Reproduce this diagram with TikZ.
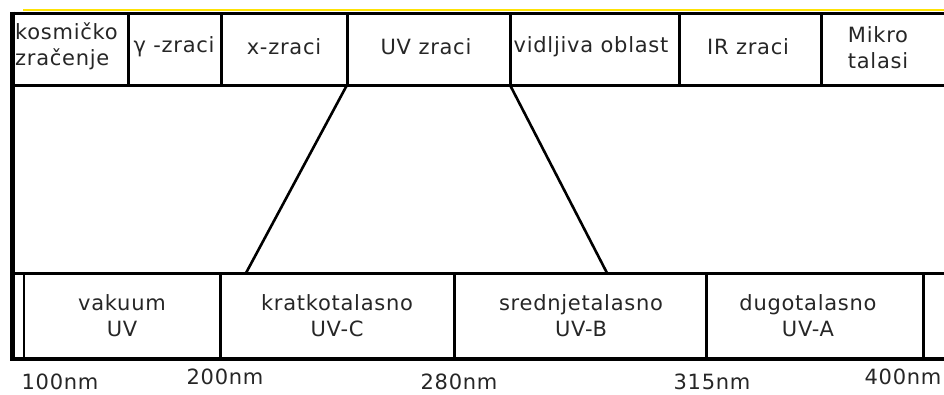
\documentclass[tikz,border=0pt]{standalone}
\usepackage{fontspec}
\setmainfont[LetterSpace=3.5]{DejaVu Sans}
\begin{document}
\begin{tikzpicture}[x=1pt, y=-1pt, line join=miter,
    band/.style={font=\fontsize{21}{26}\selectfont, align=center, inner sep=0pt, text=black!85},
    rule/.style={line width=3pt},
    slant/.style={line width=2.6pt}]
    \useasboundingbox (0,0) rectangle (944,394);

    % Coordinates for the two strips
    \coordinate (T0) at (10,13);
    \coordinate (T1) at (944,13);
    \coordinate (M0) at (12,85);
    \coordinate (M1) at (944,85);
    \coordinate (B0) at (12,273);
    \coordinate (B1) at (944,273);
    \coordinate (S0) at (10,359);
    \coordinate (S1) at (944,359);

    % Ends of the UV band in the upper strip and below
    \coordinate (uvL) at (347,85);
    \coordinate (uvR) at (510,85);
    \coordinate (uvcL) at (246,273);
    \coordinate (uvbR) at (607,273);

    % Thin yellow edge on top
    \draw[line width=1.2pt, yellow!85!orange] (23,10) -- (944,10);

    % Frame
    \draw[rule] (T0) -- (T1);
    \draw[rule] (M0) -- (M1);
    \draw[rule] (B0) -- (B1);
    \draw[line width=4pt] (S0) -- (S1);
    \draw[line width=5pt] (12.5,11.5) -- (12.5,361);

    % Upper strip dividers
    \draw[rule] (128,13) -- (128,85);
    \draw[rule] (221,13) -- (221,85);
    \draw[rule] (347,13) -- (347,85);
    \draw[rule] (510,13) -- (510,85);
    \draw[rule] (679,13) -- (679,85);
    \draw[rule] (821,13) -- (821,85);

    % Lower strip dividers
    \draw[line width=2.5pt] (24,273) -- (24,359);
    \draw[rule] (220,273) -- (220,359);
    \draw[rule] (454,273) -- (454,359);
    \draw[rule] (706,273) -- (706,359);
    \draw[rule] (923,273) -- (923,359);

    % UV band opened out
    \draw[slant] (uvL) -- (uvcL);
    \draw[slant] (uvR) -- (uvbR);

    % Upper strip labels
    \node[band, align=left, anchor=west] (kosmicko) at (15,46) {kosmičko\\zračenje};
    \node[band] (gama) at (174,47) {γ -zraci};
    \node[band] (xzr) at (284,47) {x-zraci};
    \node[band] (uvzr) at (426,47) {UV zraci};
    \node[band] (vidlj) at (591,47) {vidljiva oblast};
    \node[band] (irzr) at (748,47) {IR zraci};
    \node[band] (mikro) at (878,48) {Mikro\\talasi};

    % Lower strip labels
    \node[band] (vakuum) at (122,316) {vakuum\\UV};
    \node[band] (uvc) at (337,316) {kratkotalasno\\UV-C};
    \node[band] (uvb) at (581,316) {srednjetalasno\\UV-B};
    \node[band] (uva) at (808,316) {dugotalasno\\UV-A};

    % Wavelengths
    \node[band] (nm100) at (60,382) {100nm};
    \node[band] (nm200) at (225,377) {200nm};
    \node[band] (nm280) at (459,382) {280nm};
    \node[band] (nm315) at (712,382) {315nm};
    \node[band] (nm400) at (903,377) {400nm};
\end{tikzpicture}
\end{document}
